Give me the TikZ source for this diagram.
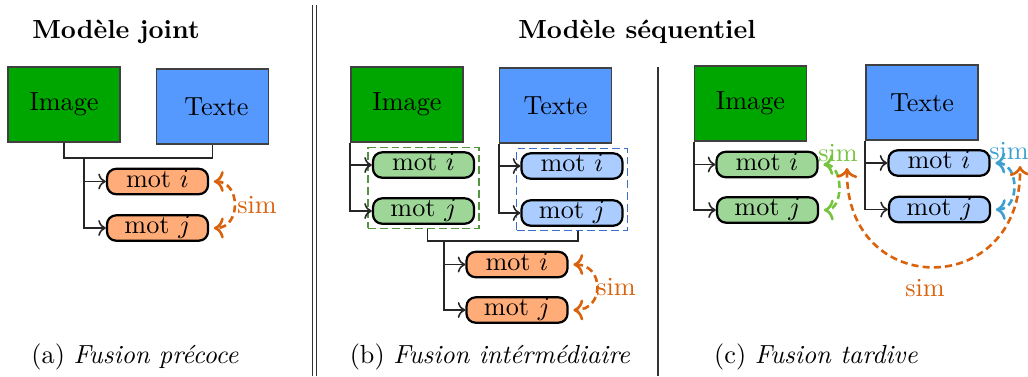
\documentclass[tikz,border=0pt]{standalone}
\usetikzlibrary{fit,arrows.meta}
\definecolor{imggreen}{RGB}{0,166,0}
\definecolor{txtblue}{RGB}{85,153,255}
\definecolor{motorange}{RGB}{255,172,120}
\definecolor{motgreen}{RGB}{158,214,152}
\definecolor{motblue}{RGB}{170,204,255}
\definecolor{simorange}{RGB}{218,98,12}
\definecolor{simgreen}{RGB}{118,196,62}
\definecolor{simblue}{RGB}{62,160,208}
\definecolor{boxgreen}{RGB}{84,148,62}
\definecolor{boxblue}{RGB}{58,110,200}
\begin{document}
\begin{tikzpicture}[x=0.382pt,y=-0.382pt,
  bigbox/.style={draw=black!75, line width=0.55pt, minimum width=42.8pt, minimum height=28.65pt, inner sep=0pt},
  imgbox/.style={bigbox, fill=imggreen},
  txtbox/.style={bigbox, fill=txtblue},
  motbox/.style={draw, line width=0.85pt, rounded corners=3.5pt, minimum width=38.6pt, minimum height=9.7pt, inner sep=0pt, text height=6.5pt, text depth=2pt},
  mo/.style={motbox, fill=motorange},
  mg/.style={motbox, fill=motgreen},
  mb/.style={motbox, fill=motblue},
  conn/.style={line width=0.6pt, draw=black!85},
  arr/.style={conn, ->},
  simarr/.style={<->, line width=1pt, dash pattern=on 2.7pt off 1.6pt},
  simshort/.style={simarr, shorten <=1.8pt, shorten >=1.8pt},
  dbox/.style={draw, dash pattern=on 3pt off 1.5pt, line width=0.55pt, inner sep=1.4pt},
  title/.style={font=\bfseries},
]
\useasboundingbox (0,0) rectangle (1028,376);

% separators
\draw[line width=0.6pt, black!80] (312.5,5) -- (312.5,376);
\draw[line width=0.6pt, black!80] (316.5,5) -- (316.5,376);
\draw[line width=0.6pt, black!80] (658,67) -- (658,376);

% titles and captions
\node[title] (t1) at (116,32) {Modèle joint};
\node[title] (t2) at (637,32) {Modèle séquentiel};
\node (c1) at (135,357) {(a) \textit{Fusion précoce}};
\node (c2) at (490,357) {(b) \textit{Fusion intérmédiaire}};
\node (c3) at (816,357) {(c) \textit{Fusion tardive}};

% ---------- panel (a)
\node[imgbox] (aImg) at (64,104.5) {Image};
\node[txtbox] (aTxt) at (212.5,106.5) {\hspace{3pt}Texte};
\node[mo] (aMi) at (157.5,181.5) {mot $i$};
\node[mo] (aMj) at (157.5,228) {mot $j$};
\coordinate (aJ) at (84,158);
\draw[conn] (aImg.south) |- (aJ) -| (aTxt.south);
\draw[arr] (aJ) |- (aMi.west);
\draw[arr] (aJ) |- (aMj.west);
\draw[simshort, simorange] (aMi.east) .. controls +(32,0) and +(32,0) .. (aMj.east);
\node[text=simorange] (aSim) at (257,205) {sim};

% ---------- panel (b)
\node[imgbox] (bImg) at (407,104.5) {Image};
\node[txtbox] (bTxt) at (555.5,105.5) {Texte};
\node[mg] (bGi) at (423.5,165) {mot $i$};
\node[mg] (bGj) at (423.5,211) {mot $j$};
\node[mb] (bBi) at (572,166) {mot $i$};
\node[mb] (bBj) at (572,213) {mot $j$};
\node[dbox, draw=boxgreen, fit=(bGi)(bGj)] (bGbox) {};
\node[dbox, draw=boxblue, fit=(bBi)(bBj)] (bBbox) {};
\draw[arr] (bImg.south west) |- (bGi.west);
\draw[arr] (bImg.south west) |- (bGj.west);
\draw[arr] (bTxt.south west) |- (bBi.west);
\draw[arr] (bTxt.south west) |- (bBj.west);
\node[mo] (bOi) at (517,264.5) {mot $i$};
\node[mo] (bOj) at (517,310) {mot $j$};
\coordinate (bJ) at (444,241);
\draw[conn] ([xshift=4*0.382pt]bGbox.south) |- (bJ) -| ([xshift=6*0.382pt]bBbox.south);
\draw[arr] (bJ) |- (bOi.west);
\draw[arr] (bJ) |- (bOj.west);
\draw[simshort, simorange] (bOi.east) .. controls +(36,0) and +(36,0) .. (bOj.east);
\node[text=simorange] (bSim) at (616,287) {sim};

% ---------- panel (c)
\node[imgbox] (cImg) at (750.5,103.5) {Image};
\node[txtbox] (cTxt) at (922,102.5) {Texte};
\node[mg] (cGi) at (767,164.5) {mot $i$};
\node[mg] (cGj) at (767.5,210) {mot $j$};
\node[mb] (cBi) at (939,163) {mot $i$};
\node[mb] (cBj) at (939.5,209.5) {mot $j$};
\draw[arr] (cImg.south west) |- (cGi.west);
\draw[arr] (cImg.south west) |- (cGj.west);
\draw[arr] (cTxt.south west) |- (cBi.west);
\draw[arr] (cTxt.south west) |- (cBj.west);
\draw[simshort, simgreen] (cGi.east) .. controls +(25,0) and +(25,0) .. (cGj.east);
\draw[simshort, simblue] (cBi.east) .. controls +(29,0) and +(29,0) .. (cBj.east);
\node[text=simgreen] (cGs) at (838,153) {sim};
\node[text=simblue] (cBs) at (1009,151) {sim};
\coordinate (cOs) at (847,168);
\coordinate (cOe) at (1020,166);
\draw[simarr, simorange] (cOs) .. controls (845,300) and (1022,300) .. (cOe);
\node[text=simorange] (cOsim) at (925,288) {sim};
\end{tikzpicture}
\end{document}
